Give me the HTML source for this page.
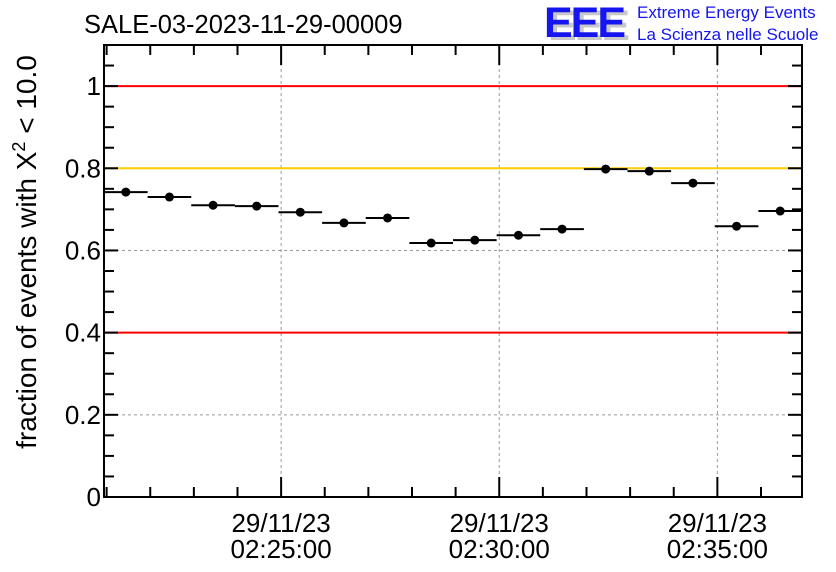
<!DOCTYPE html>
<html><head><meta charset="utf-8"><style>
body{margin:0;background:#fff;}
svg{display:block;font-family:"Liberation Sans",Arial,sans-serif;}
</style></head><body>
<svg id="chart" width="836" height="572">
<text x="84" y="33" font-size="25.5">SALE-03-2023-11-29-00009</text>
<g>
<text x="548" y="40" font-size="43" font-weight="bold" fill="#c8c8c8" letter-spacing="-2">EEE</text>
<text x="544" y="37" font-size="43" font-weight="bold" fill="#1515f0" letter-spacing="-2">EEE</text>
<text x="637" y="18" font-size="17" fill="#1515f0">Extreme Energy Events</text>
<text x="637" y="40" font-size="17" fill="#1515f0">La Scienza nelle Scuole</text>
</g>
<text transform="translate(36,252) rotate(-90)" text-anchor="middle" font-size="28">fraction of events with Χ<tspan dy="-11" font-size="18">2</tspan><tspan dy="11"> &lt; 10.0</tspan></text>
<g id="plot"></g>
</svg>
<script>
const binStartsMin = [0,1,2,3,4,5,6,7,8,9,10,11,12,13,14,15];
const values = [0.742,0.730,0.710,0.708,0.693,0.667,0.679,0.618,0.625,0.637,0.652,0.798,0.793,0.764,0.659,0.696];
const yTicks = [0,0.2,0.4,0.6,0.8,1];
const yTickLabels = ["0","0.2","0.4","0.6","0.8","1"];
const xMajorMin = [4.06,9.06,14.06];
const xLabels = [["29/11/23","02:25:00"],["29/11/23","02:30:00"],["29/11/23","02:35:00"]];
const refLines = [1,0.8,0.4];
const refColors = ["#ff0000","#ffcc00","#ff0000"];

const L=104,R=802,T=45,B=497,xMax=16,yMax=1.1;
const sx=m=>L+(R-L)*m/xMax, sy=v=>B-(B-T)*v/yMax;
const NS="http://www.w3.org/2000/svg", g=document.getElementById('plot');
function mk(t,a){const e=document.createElementNS(NS,t);for(const k in a)e.setAttribute(k,a[k]);g.appendChild(e);return e;}
yTicks.forEach(v=>{if(v>0){const e=mk('line',{x1:L,x2:R,y1:sy(v),y2:sy(v),stroke:'#999','stroke-dasharray':'3,3','stroke-width':1});

}});
xMajorMin.forEach(m=>{const e=mk('line',{x1:sx(m),x2:sx(m),y1:T,y2:B,stroke:'#999','stroke-dasharray':'3,3','stroke-width':1});

});
refLines.forEach((v,i)=>{const e=mk('line',{x1:L,x2:R,y1:sy(v),y2:sy(v),stroke:refColors[i],'stroke-width':2});

});
values.forEach((v,i)=>{
 const x0=sx(binStartsMin[i]),x1=sx(binStartsMin[i]+1),y=sy(v);
 const l=mk('line',{x1:x0,x2:x1,y1:y,y2:y,stroke:'#000','stroke-width':2});
 
 
 const c=mk('circle',{cx:(x0+x1)/2,cy:y,r:4.5,fill:'#000'});
 
 
});
const f=mk('rect',{x:L,y:T,width:R-L,height:B-T,fill:'none',stroke:'#000','stroke-width':2});


for(let k=0;k<=22;k++){const v=k*0.05,y=sy(v),len=(k%4==0)?14:10;
 mk('line',{x1:L,x2:L+len,y1:y,y2:y,stroke:'#000','stroke-width':2});
 mk('line',{x1:R,x2:R-len,y1:y,y2:y,stroke:'#000','stroke-width':2});}
yTicks.forEach((v,i)=>{const t=mk('text',{x:101,y:sy(v)+9,'text-anchor':'end','font-size':26});t.textContent=yTickLabels[i];

});
for(let m=0.06;m<=16;m+=1){const x=sx(m),maj=xMajorMin.some(a=>Math.abs(a-m)<0.01),len=maj?20:10;
 mk('line',{x1:x,x2:x,y1:B,y2:B-len,stroke:'#000','stroke-width':2});
 mk('line',{x1:x,x2:x,y1:T,y2:T+len,stroke:'#000','stroke-width':2});}
xMajorMin.forEach((m,i)=>{xLabels[i].forEach((s,j)=>{const t=mk('text',{x:sx(m),y:532+j*26,'text-anchor':'middle','font-size':26});t.textContent=s;

});});
</script>
</body></html>
